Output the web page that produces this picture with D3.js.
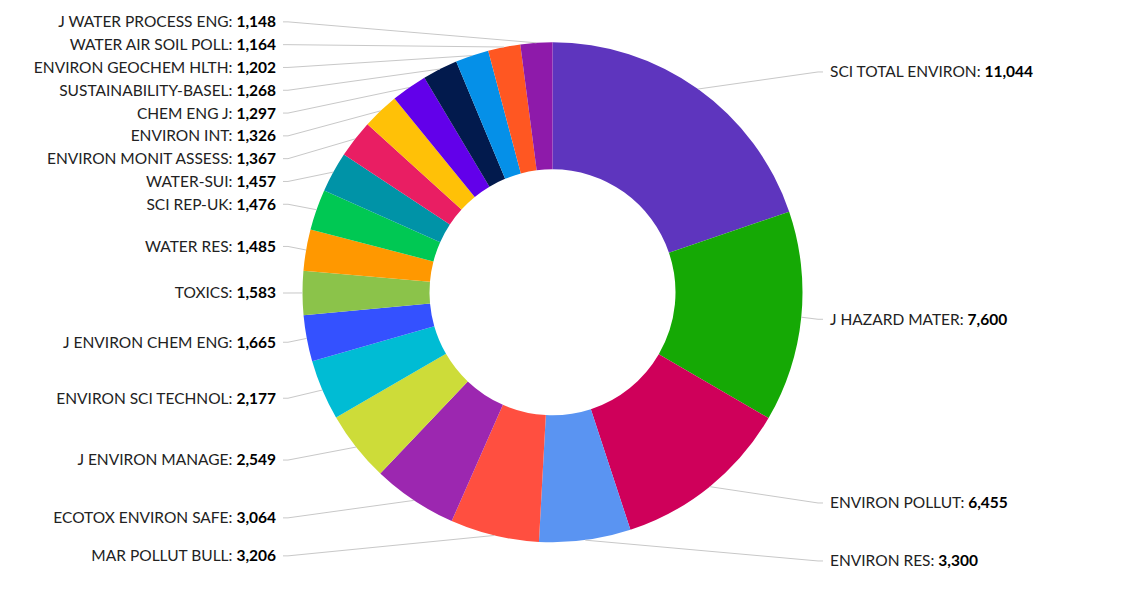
<!DOCTYPE html>
<html>
<head>
<meta charset="utf-8">
<script src="https://cdn.jsdelivr.net/npm/d3@7"></script>
<style>
  body { margin: 0; background: #fff; }
  svg text { font-family: "Source Sans Pro", Lato, "Liberation Sans", sans-serif; font-size: 15.5px; }
</style>
</head>
<body>
<svg id="chart"></svg>
<script>
const journals = [
  "SCI TOTAL ENVIRON", "J HAZARD MATER", "ENVIRON POLLUT", "ENVIRON RES",
  "MAR POLLUT BULL", "ECOTOX ENVIRON SAFE", "J ENVIRON MANAGE", "ENVIRON SCI TECHNOL",
  "J ENVIRON CHEM ENG", "TOXICS", "WATER RES", "SCI REP-UK", "WATER-SUI",
  "ENVIRON MONIT ASSESS", "ENVIRON INT", "CHEM ENG J", "SUSTAINABILITY-BASEL",
  "ENVIRON GEOCHEM HLTH", "WATER AIR SOIL POLL", "J WATER PROCESS ENG"
];
const counts = [
  11044, 7600, 6455, 3300, 3206, 3064, 2549, 2177, 1665, 1583,
  1485, 1476, 1457, 1367, 1326, 1297, 1268, 1202, 1164, 1148
];
const colors = [
  "#5e35be", "#15a905", "#cf005a", "#5a94f2", "#ff4f40", "#9c27b0", "#cddc39",
  "#00bcd4", "#3451ff", "#8bc34a", "#ff9800", "#00c853", "#0093a7", "#e91e63",
  "#ffc107", "#6200ea", "#021a4d", "#0590e8", "#ff5722", "#8e1aaa"
];

const W = 1145, H = 596;
const cx = 552.5, cy = 292.3;
const outerR = 250, innerR = 123, labelR = 271;
const lineH = 22.8;

const svg = d3.select("#chart").attr("width", W).attr("height", H);
const g = svg.append("g").attr("transform", `translate(${cx},${cy})`);

const data = journals.map((name, i) => ({ name, value: counts[i], color: colors[i] }));

const pie = d3.pie().value(d => d.value).sort(null);
const arc = d3.arc().innerRadius(innerR).outerRadius(outerR);
const arcs = pie(data);

g.selectAll("path.slice")
  .data(arcs)
  .join("path")
  .attr("class", "slice")
  .attr("fill", d => d.data.color)
  .attr("d", arc);

// label layout: natural spot on the label radius, pushed down to avoid overlaps
arcs.forEach(d => {
  d.mid = (d.startAngle + d.endAngle) / 2;
  d.right = Math.sin(d.mid) >= 0;
  d.ly = -Math.cos(d.mid) * labelR;
});
["right", "left"].forEach(side => {
  const items = arcs.filter(d => side === "right" ? d.right : !d.right)
    .sort((a, b) => a.ly - b.ly);
  let prev = -Infinity;
  items.forEach(d => {
    d.ly = Math.max(d.ly, prev + lineH);
    prev = d.ly;
  });
});

const fmt = d3.format(",");
const rightX = 830 - cx, leftX = 276 - cx;

g.selectAll("polyline.leader")
  .data(arcs)
  .join("polyline")
  .attr("class", "leader")
  .attr("fill", "none")
  .attr("stroke", "#c8c8c8")
  .attr("stroke-width", 1)
  .attr("points", d => {
    const px = Math.sin(d.mid) * outerR, py = -Math.cos(d.mid) * outerR;
    const ex = d.right ? rightX - 7 : leftX + 7;
    const kx = d.right ? ex - 5 : ex + 5;
    return `${px},${py} ${kx},${d.ly} ${ex},${d.ly}`;
  });

const labels = g.selectAll("text.lbl")
  .data(arcs)
  .join("text")
  .attr("class", "lbl")
  .attr("x", d => d.right ? rightX : leftX)
  .attr("y", d => d.ly)
  .attr("dy", "0.35em")
  .attr("text-anchor", d => d.right ? "start" : "end");

labels.append("tspan").attr("fill", "#222").text(d => d.data.name + ": ");
labels.append("tspan").attr("fill", "#000").attr("font-weight", "bold").text(d => fmt(d.data.value));
</script>
</body>
</html>
